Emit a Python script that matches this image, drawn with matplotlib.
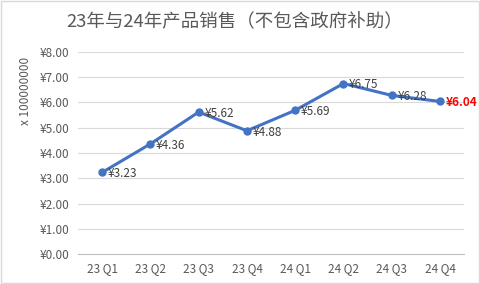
import matplotlib
matplotlib.use("Agg")
import matplotlib.pyplot as plt
import matplotlib.patches as mpatches

plt.rcParams['font.family'] = ['Noto Sans CJK SC', 'DejaVu Sans']

# ── Données ───────────────────────────────────────────
quarters = ["23 Q1", "23 Q2", "23 Q3", "23 Q4", "24 Q1", "24 Q2", "24 Q3", "24 Q4"]
sales    = [3.23, 4.36, 5.62, 4.88, 5.69, 6.75, 6.28, 6.04]
yticks   = [0, 1, 2, 3, 4, 5, 6, 7, 8]

LINE_COLOR = "#4472C4"
TEXT_COLOR = "#595959"
GRID_COLOR = "#D9D9D9"

fig = plt.figure(figsize=(4.8, 2.84), dpi=100)
ax = fig.add_axes([0.1625, 0.1056, 0.8045, 0.7114])

x = list(range(len(quarters)))
ax.plot(x, sales, color=LINE_COLOR, lw=2.2, marker="o", ms=5, zorder=3)

# étiquettes de données
for i, v in enumerate(sales):
    last = i == len(sales) - 1
    ax.annotate(f"¥{v:.2f}", (i, v), xytext=(4, -1), textcoords="offset points",
                ha="left", va="center", fontsize=8.5,
                color="#FF0000" if last else "#404040",
                fontweight="bold" if last else "normal")

ax.set_xlim(-0.5, len(quarters) - 0.5)
ax.set_ylim(0, 8)
ax.set_xticks(x)
ax.set_xticklabels(quarters)
ax.set_yticks(yticks)
ax.set_yticklabels([f"¥{t:.2f}" for t in yticks])
ax.tick_params(length=0, labelsize=8.5, colors=TEXT_COLOR, pad=6)
ax.grid(axis="y", color=GRID_COLOR, lw=0.8)
ax.set_axisbelow(True)
for s in ["top", "right", "left"]:
    ax.spines[s].set_visible(False)
ax.spines["bottom"].set_color("#BFBFBF")

fig.text(0.053, 0.68, "x 100000000", rotation=90, ha="center", va="center",
         fontsize=8.5, color=TEXT_COLOR)
fig.text(0.49, 0.922, "23年与24年产品销售（不包含政府补助）", ha="center", va="center",
         fontsize=13.3, color=TEXT_COLOR)

# cadre du graphique
fig.patches.append(mpatches.Rectangle((0.002, 0.003), 0.995, 0.993, transform=fig.transFigure,
                                      fill=False, ec="#D9D9D9", lw=1))

fig.savefig("out.png", dpi=100, facecolor="white")
